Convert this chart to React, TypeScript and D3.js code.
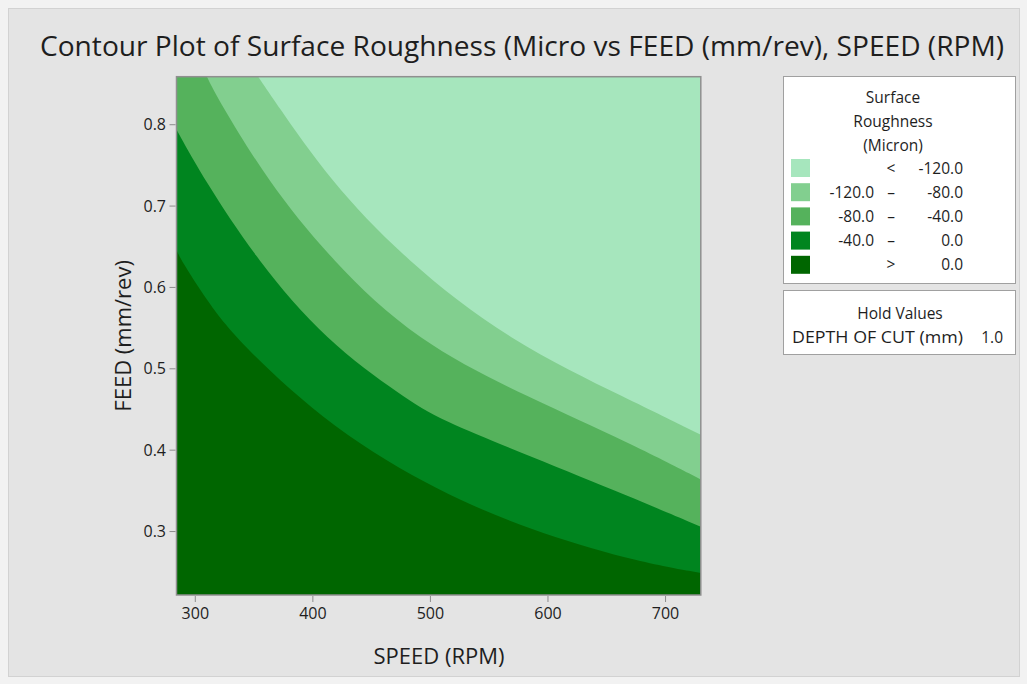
import React from "react";
import * as d3 from "d3";

// ---- data ----
const speedRange = [284, 730];
const feedRange = [0.222, 0.859];
const speedTicks = [300, 400, 500, 600, 700];
const feedTicks = [0.3, 0.4, 0.5, 0.6, 0.7, 0.8];

// contour boundaries (speed, feed), going from upper-left to right edge
const contour0Speed = [284, 288.1, 309.3, 335.7, 417.2, 508.1, 584.5, 669.4, 730];
const contour0Feed = [0.646, 0.633, 0.585, 0.534, 0.425, 0.348, 0.302, 0.265, 0.249];
const contourM40Speed = [284, 308.2, 352.7, 411.3, 476.6, 508.1, 584.5, 669.4, 730];
const contourM40Feed = [0.794, 0.731, 0.633, 0.534, 0.466, 0.437, 0.393, 0.343, 0.306];
const contourM80Speed = [309.9, 319.8, 361.4, 415.9, 487.7, 584.5, 669.4, 730];
const contourM80Feed = [0.859, 0.83, 0.731, 0.633, 0.534, 0.464, 0.409, 0.364];
const contourM120Speed = [353.5, 367.1, 414.5, 479.2, 566.7, 669.4, 730];
const contourM120Feed = [0.859, 0.83, 0.731, 0.633, 0.534, 0.462, 0.419];

const legendTitle = ["Surface", "Roughness", "(Micron)"];
const legendLow = ["", "-120.0", "-80.0", "-40.0", ""];
const legendSym = ["<", "–", "–", "–", ">"];
const legendHigh = ["-120.0", "-80.0", "-40.0", "0.0", "0.0"];
const colors = ["#a6e6bd", "#82cf8f", "#55b25c", "#00851f", "#006600"];

const holdName = "DEPTH OF CUT (mm)";
const holdValue = "1.0";

const W = 1027;
const H = 684;
const margin = { left: 176.5, right: 700.8, top: 76.7, bottom: 595 };
const FONT = "'Open Sans', 'Noto Sans', sans-serif";

export default function App() {
  const x = d3.scaleLinear().domain(speedRange).range([margin.left, margin.right]);
  const y = d3.scaleLinear().domain(feedRange).range([margin.bottom, margin.top]);
  const line = d3
    .line<[number, number]>()
    .x((d) => x(d[0]))
    .y((d) => y(d[1]))
    .curve(d3.curveBasis);

  const regionPath = (sp: number[], fd: number[]) => {
    const pts = sp.map((s, i) => [s, fd[i]] as [number, number]);
    let p = line(pts) as string;
    p += `L${x(speedRange[1])},${y(feedRange[0])}L${x(speedRange[0])},${y(feedRange[0])}`;
    if (sp[0] > speedRange[0]) p += `L${x(speedRange[0])},${y(feedRange[1])}`;
    return p + "Z";
  };

  const regions = [
    { sp: contourM120Speed, fd: contourM120Feed, c: colors[1] },
    { sp: contourM80Speed, fd: contourM80Feed, c: colors[2] },
    { sp: contourM40Speed, fd: contourM40Feed, c: colors[3] },
    { sp: contour0Speed, fd: contour0Feed, c: colors[4] },
  ];

  const pw = margin.right - margin.left;
  const ph = margin.bottom - margin.top;
  const txt = "#1e1e1e";

  return (
    <svg
      width={W}
      height={H}
      style={{ position: "absolute", left: 0, top: 0 }}
      fontFamily={FONT}
    >
      <rect x={0} y={0} width={W} height={H} fill="#f2f2f2" />
      <rect x={8.5} y={8.5} width={1011} height={668} fill="#e4e4e4" stroke="#d2d2d2" />
      <text x={522} y={56} textAnchor="middle" fontSize={28} fill={txt} textLength={964} lengthAdjust="spacingAndGlyphs">
        Contour Plot of Surface Roughness (Micro vs FEED (mm/rev), SPEED (RPM)
      </text>

      <defs>
        <clipPath id="plotclip">
          <rect x={margin.left} y={margin.top} width={pw} height={ph} />
        </clipPath>
      </defs>
      <g clipPath="url(#plotclip)">
        <rect x={margin.left} y={margin.top} width={pw} height={ph} fill={colors[0]} />
        {regions.map((r, i) => (
          <path key={i} d={regionPath(r.sp, r.fd)} fill={r.c} />
        ))}
      </g>
      <rect
        x={margin.left}
        y={margin.top}
        width={pw}
        height={ph}
        fill="none"
        stroke="#8f8f8f"
        strokeWidth={1.5}
      />

      {speedTicks.map((t) => (
        <g key={t}>
          <line x1={x(t)} x2={x(t)} y1={margin.bottom + 1} y2={margin.bottom + 7} stroke="#8c8c8c" />
          <text x={x(t)} y={619} textAnchor="middle" fontSize={16} fill={txt}>
            {t}
          </text>
        </g>
      ))}
      {feedTicks.map((t) => (
        <g key={t}>
          <line x1={margin.left - 7} x2={margin.left - 1} y1={y(t)} y2={y(t)} stroke="#8c8c8c" />
          <text x={166} y={y(t) + 5.5} textAnchor="end" fontSize={16} fill={txt}>
            {t.toFixed(1)}
          </text>
        </g>
      ))}
      <text x={439} y={664} textAnchor="middle" fontSize={22} fill={txt}>
        SPEED (RPM)
      </text>
      <text
        transform={`translate(131,${(margin.top + margin.bottom) / 2}) rotate(-90)`}
        textAnchor="middle"
        fontSize={22}
        fill={txt}
      >
        FEED (mm/rev)
      </text>

      {/* legend */}
      <rect x={783.5} y={76.5} width={232} height={207} fill="#fff" stroke="#a0a0a0" />
      {legendTitle.map((s, i) => (
        <text key={s} x={893} y={103 + i * 24} textAnchor="middle" fontSize={15.5} fill={txt}>
          {s}
        </text>
      ))}
      {colors.map((c, i) => {
        const cy = 168 + i * 24.2;
        return (
          <g key={i}>
            <rect x={791} y={cy - 9} width={19} height={18} fill={c} />
            <text x={874} y={cy + 5.5} textAnchor="end" fontSize={15.5} fill={txt}>
              {legendLow[i]}
            </text>
            <text x={891} y={cy + 5.5} textAnchor="middle" fontSize={15.5} fill={txt}>
              {legendSym[i]}
            </text>
            <text x={963} y={cy + 5.5} textAnchor="end" fontSize={15.5} fill={txt}>
              {legendHigh[i]}
            </text>
          </g>
        );
      })}
      <rect x={783.5} y={290.5} width={232} height={64} fill="#fff" stroke="#a0a0a0" />
      <text x={900} y={319} textAnchor="middle" fontSize={15.5} fill={txt}>Hold Values</text>
      <text x={792} y={343} fontSize={15.5} fill={txt} textLength={171} lengthAdjust="spacingAndGlyphs">{holdName}</text>
      <text x={1003} y={343} textAnchor="end" fontSize={15.5} fill={txt}>{holdValue}</text>
    </svg>
  );
}
